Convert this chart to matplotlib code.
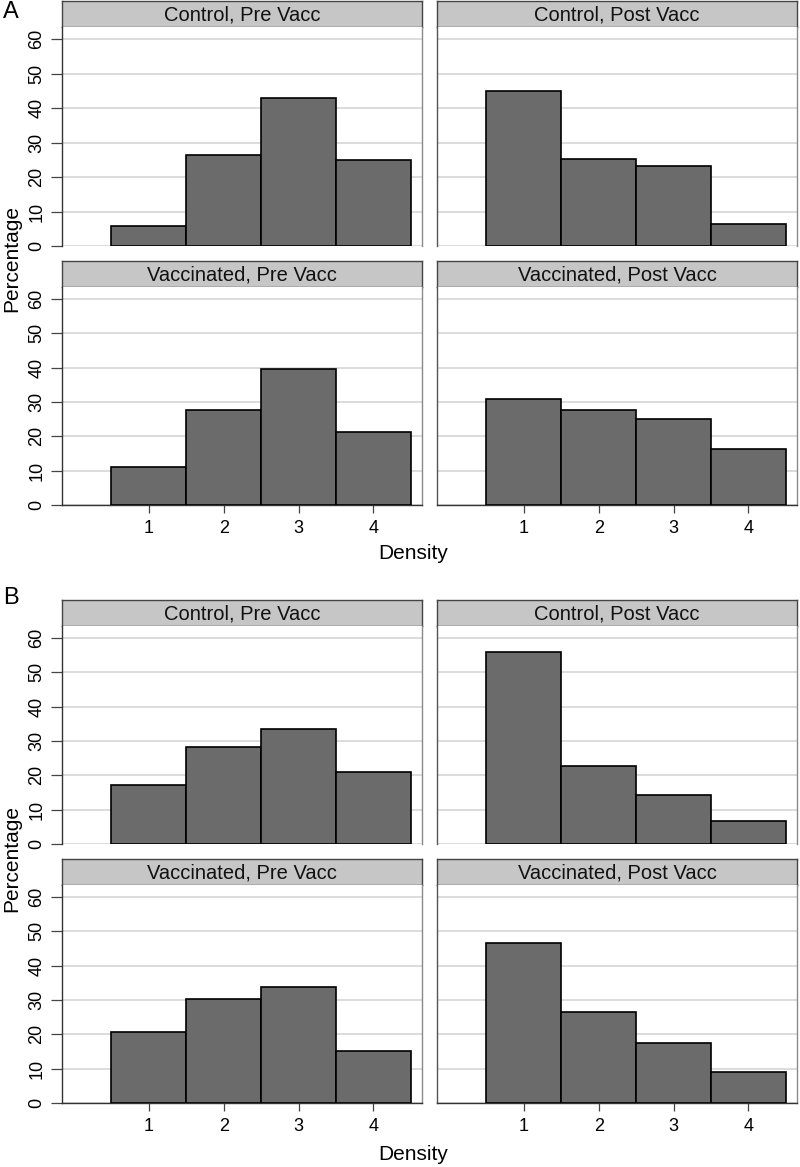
import matplotlib
matplotlib.use("Agg")
import matplotlib.pyplot as plt

plt.rcParams['font.family'] = ['Liberation Sans', 'DejaVu Sans']

# ---- data ----
density_levels = [1, 2, 3, 4]
facet_titles = ["Control, Pre Vacc", "Control, Post Vacc",
                "Vaccinated, Pre Vacc", "Vaccinated, Post Vacc"]
y_ticks = [0, 10, 20, 30, 40, 50, 60]

A_control_pre = [5.8, 26.4, 43.0, 24.8]
A_control_post = [45.0, 25.3, 23.2, 6.5]
A_vacc_pre = [11.1, 27.7, 39.7, 21.4]
A_vacc_post = [31.0, 27.7, 25.1, 16.2]

B_control_pre = [17.2, 28.2, 33.6, 20.9]
B_control_post = [56.0, 22.7, 14.4, 6.8]
B_vacc_pre = [20.6, 30.4, 33.8, 15.2]
B_vacc_post = [46.6, 26.5, 17.6, 9.0]

panel_labels = ["A", "B"]
x_label = "Density"
y_label = "Percentage"

panels = [
    [A_control_pre, A_control_post, A_vacc_pre, A_vacc_post],
    [B_control_pre, B_control_post, B_vacc_pre, B_vacc_post],
]

# ---- layout (pixels) ----
W, H = 800, 1167
fig = plt.figure(figsize=(W / 100, H / 100), dpi=100)


def box(x0, y0, x1, y1):
    return [x0 / W, 1 - y1 / H, (x1 - x0) / W, (y1 - y0) / H]


cols = [(62, 422), (437, 797)]
rows_px = [
    [(1, 27, 246), (261, 287, 505)],
    [(600, 626, 844), (859, 885, 1103)],
]
panel_label_y = [12, 598]
ylabel_y = [259, 859]
xlabel_y = [553, 1154]

BAR_COLOR = "#6b6b6b"
GRID_COLOR = "#d9d9d9"
STRIP_COLOR = "#c6c6c6"
SPINE_DARK = "#333333"
SPINE_RIGHT = "#8a8a8a"

for p, data in enumerate(panels):
    for r in range(2):
        st, at, ab = rows_px[p][r]
        for c in range(2):
            idx = r * 2 + c
            x0, x1 = cols[c]
            sax = fig.add_axes(box(x0, st, x1, at))
            sax.set_facecolor(STRIP_COLOR)
            sax.set_xticks([])
            sax.set_yticks([])
            for s in sax.spines.values():
                s.set_color("#444444")
                s.set_linewidth(1.0)
            sax.text(0.5, 0.48, facet_titles[idx], ha="center", va="center",
                     fontsize=14.5, color="#111111", transform=sax.transAxes)

            ax = fig.add_axes(box(x0, at, x1, ab))
            ax.set_xlim(-0.16, 4.65)
            ax.set_ylim(0, 63.5)
            ax.set_yticks(y_ticks)
            ax.yaxis.grid(True, color=GRID_COLOR, linewidth=1.3)
            ax.set_axisbelow(True)
            ax.bar(density_levels, data[idx], width=1.0, color=BAR_COLOR,
                   edgecolor="black", linewidth=1.2, zorder=3)
            ax.spines["top"].set_visible(False)
            ax.spines["right"].set_color(SPINE_RIGHT)
            ax.spines["right"].set_linewidth(1.0)
            ax.spines["left"].set_color(SPINE_DARK if c == 0 else "#555555")
            ax.spines["left"].set_linewidth(1.0)
            if r == 1:
                ax.spines["bottom"].set_color(SPINE_DARK)
                ax.spines["bottom"].set_linewidth(1.0)
                ax.set_xticks(density_levels)
                ax.set_xticklabels([str(v) for v in density_levels])
                ax.tick_params(axis="x", length=6, width=0.9, color="#444444",
                               labelsize=13, pad=5)
            else:
                ax.spines["bottom"].set_visible(False)
                ax.set_xticks([])
            if c == 0:
                ax.tick_params(axis="y", length=8, width=0.9, color="#444444",
                               labelsize=13, pad=4)
                for lab in ax.get_yticklabels():
                    lab.set_rotation(90)
                    lab.set_va("center")
            else:
                ax.tick_params(axis="y", length=0, labelleft=False)

    fig.text(3 / W, 1 - panel_label_y[p] / H, panel_labels[p], fontsize=17,
             ha="left", va="center")
    fig.text(12 / W, 1 - ylabel_y[p] / H, y_label, fontsize=15, rotation=90,
             ha="center", va="center")
    fig.text(413 / W, 1 - xlabel_y[p] / H, x_label, fontsize=15,
             ha="center", va="center")

fig.savefig("out.png", dpi=100)
